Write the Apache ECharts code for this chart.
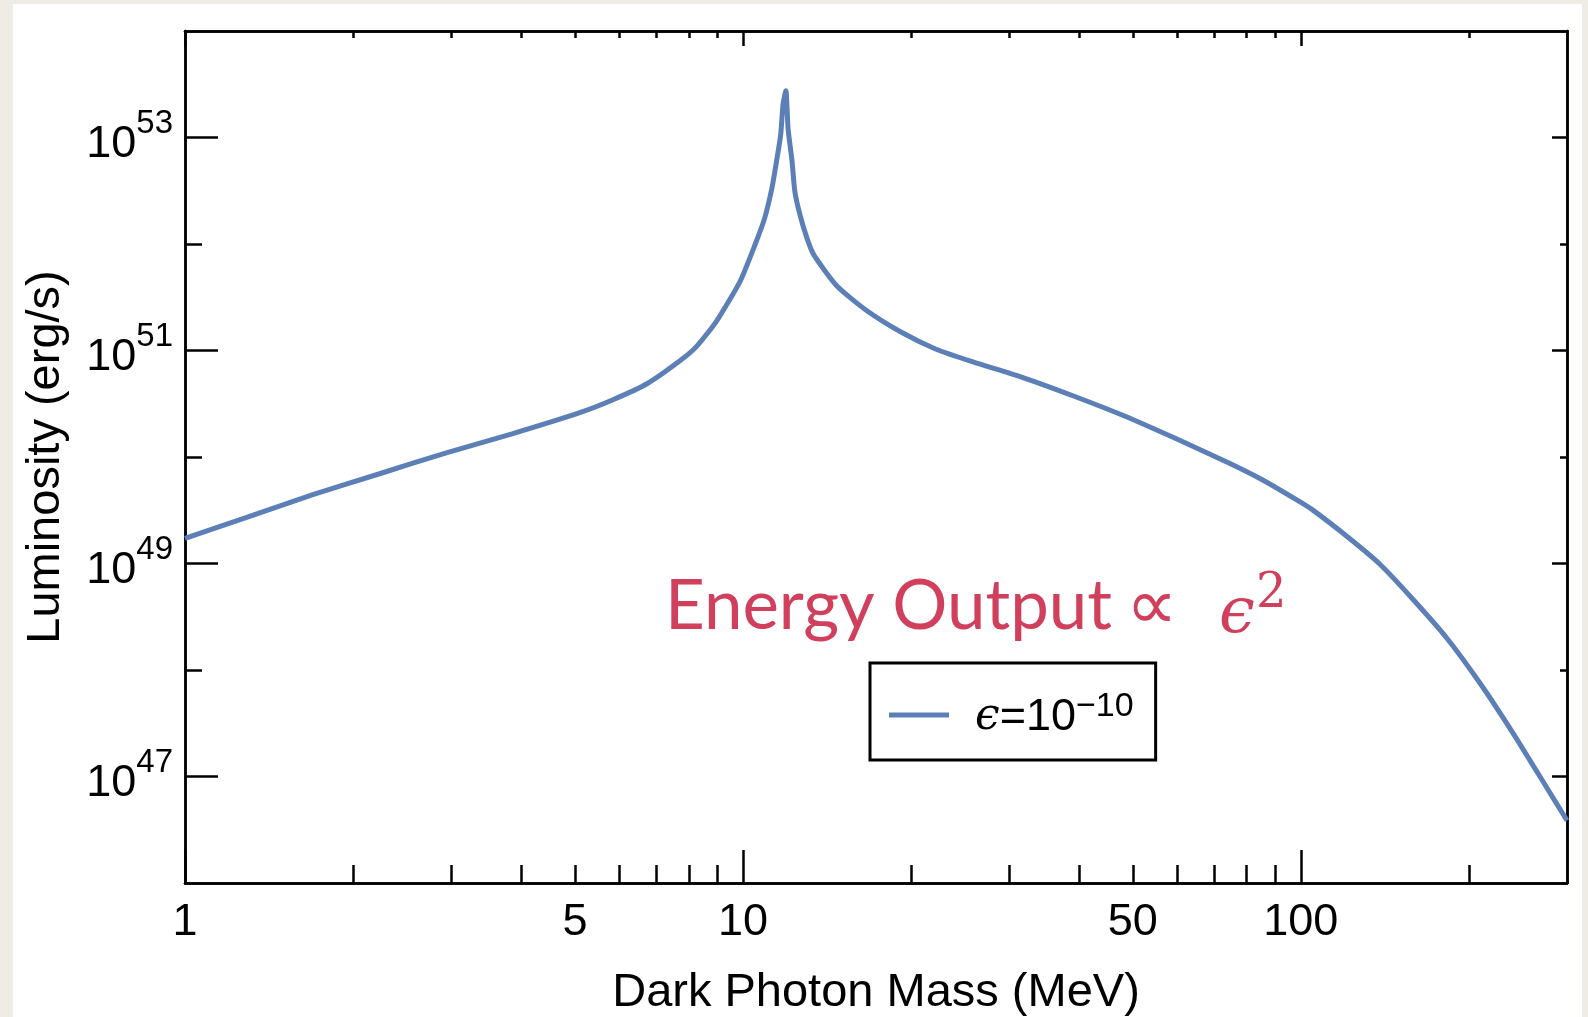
<!DOCTYPE html>
<html>
<head>
<meta charset="utf-8">
<script src="https://cdn.jsdelivr.net/npm/echarts@6/dist/echarts.min.js"></script>
<style>
  html, body { margin: 0; padding: 0; width: 1588px; height: 1017px; overflow: hidden; background: #eeece4; }
  #chart { position: absolute; left: 13px; top: 4px; width: 1569px; height: 1013px; background: #fff; }
</style>
</head>
<body>
<div id="chart"></div>
<script>
  // dark photon mass (MeV)
  const mass = [1.00, 1.29, 1.70, 2.24, 2.95, 3.87, 5.10, 5.85, 6.73, 7.71, 8.27, 8.97, 9.89,
    10.52, 10.94, 11.27, 11.51, 11.69, 11.80, 11.94, 12.05, 12.25, 12.39, 12.65, 13.03, 13.41,
    14.74, 16.61, 19.20, 22.09, 25.84, 31.50, 39.03, 48.18, 59.70, 74.00, 85.13, 98.35,
    105.1, 120.9, 138.6, 158.8, 182.6, 209.4, 239.9, 276.0, 300];
  // luminosity (erg/s) for eps = 1e-10
  const luminosity = [1.72e49, 2.71e49, 4.45e49, 7.00e49, 1.10e50, 1.66e50, 2.61e50, 3.45e50, 4.87e50, 8.00e50, 1.10e51, 1.89e51, 4.49e51,
    9.95e51, 1.75e52, 3.33e52, 6.35e52, 1.07e53, 2.04e53, 2.75e53, 1.21e53, 5.96e52, 3.12e52, 1.90e52, 1.13e52, 7.85e51,
    4.03e51, 2.40e51, 1.49e51, 1.04e51, 7.82e50, 5.66e50, 3.76e50, 2.44e50, 1.49e50, 8.87e49, 6.14e49, 3.95e49,
    3.17e49, 1.80e49, 9.84e48, 4.62e48, 2.00e48, 7.55e47, 2.57e47, 7.85e46, 3.86e46];

  const xLabelValues = [1, 5, 10, 50, 100];
  const xMajorTicks = [1, 10, 100];
  const xMinorTicks = [2, 3, 4, 5, 6, 7, 8, 9, 20, 30, 40, 50, 60, 70, 80, 90, 200];
  const yLabelValues = [1e47, 1e49, 1e51, 1e53];
  const yMinorTicks = [1e48, 1e50, 1e52];
  const seriesName = 'ϵ=10⁻¹⁰';

  const black = '#000';
  const red = '#d0405c';
  const labelFont = "'Liberation Sans', Arial, sans-serif";

  function xAxis(position, ticks, len, label) {
    return {
      type: 'log', logBase: 10, min: 1, max: 300, position: position,
      axisLine: { show: true, onZero: false, lineStyle: { color: black, width: 2.5 } },
      axisTick: { show: true, inside: true, length: len, customValues: ticks, lineStyle: { color: black, width: 2.5 } },
      axisLabel: label || { show: false },
      splitLine: { show: false }
    };
  }

  function yAxis(position, ticks, len, label) {
    return {
      type: 'log', logBase: 10, min: 1e46, max: 1e54, position: position,
      axisLine: { show: true, onZero: false, lineStyle: { color: black, width: 2.5 } },
      axisTick: { show: true, inside: true, length: len, customValues: ticks, lineStyle: { color: black, width: 2.5 } },
      axisLabel: label || { show: false },
      splitLine: { show: false }
    };
  }

  const bottomMain = xAxis('bottom', xMajorTicks, 33, {
    show: true, customValues: xLabelValues, margin: 17, color: black,
    fontFamily: labelFont, fontSize: 45,
    formatter: v => String(Math.round(v))
  });
  bottomMain.name = 'Dark Photon Mass (MeV)';
  bottomMain.nameLocation = 'middle';
  bottomMain.nameGap = 87;
  bottomMain.nameTextStyle = { color: black, fontSize: 47, fontFamily: labelFont };

  const leftMain = yAxis('left', yLabelValues, 33, {
    show: true, customValues: yLabelValues, margin: 12, color: black,
    fontFamily: labelFont,
    formatter: v => '{b|10}{s|' + Math.round(Math.log10(v)) + '}',
    rich: {
      b: { fontSize: 45, fontFamily: labelFont, color: black, lineHeight: 60, verticalAlign: 'bottom' },
      s: { fontSize: 33, fontFamily: labelFont, color: black, lineHeight: 28, verticalAlign: 'top' }
    }
  });
  leftMain.name = 'Luminosity (erg/s)';
  leftMain.nameLocation = 'middle';
  leftMain.nameGap = 115;
  leftMain.nameRotate = 90;
  leftMain.nameTextStyle = { color: black, fontSize: 47, fontFamily: labelFont };

  const option = {
    animation: false,
    grid: { left: 172, top: 27, right: 15, bottom: 134, containLabel: false, outerBoundsMode: 'none' },
    xAxis: [
      bottomMain,
      xAxis('bottom', xMinorTicks, 18),
      xAxis('top', xMajorTicks, 15),
      xAxis('top', xMinorTicks, 7)
    ],
    yAxis: [
      leftMain,
      yAxis('left', yMinorTicks, 17),
      yAxis('right', yLabelValues, 15),
      yAxis('right', yMinorTicks, 7)
    ],
    legend: {
      left: 857, top: 659,
      padding: [27, 22, 20, 19],
      borderColor: black, borderWidth: 3, backgroundColor: '#fff',
      itemWidth: 60, itemHeight: 5,
      selectedMode: false,
      data: [{ name: seriesName, icon: 'rect', itemStyle: { color: '#5b7fb6' } }],
      formatter: () => '{e|ϵ}{b|=10}{s|−10}',
      textStyle: {
        color: black,
        rich: {
          e: { fontSize: 44, fontFamily: "'DejaVu Serif', serif", fontStyle: 'italic', color: black, lineHeight: 50, verticalAlign: 'bottom', padding: [0, 0, 0, 21] },
          b: { fontSize: 45, fontFamily: labelFont, color: black, lineHeight: 50, verticalAlign: 'bottom' },
          s: { fontSize: 34, fontFamily: labelFont, color: black, lineHeight: 22, verticalAlign: 'top' }
        }
      }
    },
    graphic: [
      { type: 'text', x: 652, y: 603, style: { text: 'Energy Output', fill: red, font: "69px Lato, 'Noto Sans', sans-serif", textAlign: 'left', textVerticalAlign: 'middle' } },
      { type: 'text', x: 1113, y: 606, style: { text: '∝', fill: red, font: "72px 'DejaVu Sans', sans-serif", textAlign: 'left', textVerticalAlign: 'middle' } },
      { type: 'text', x: 1206, y: 611, style: { text: 'ϵ', fill: red, font: "italic 64px 'DejaVu Serif', serif", textAlign: 'left', textVerticalAlign: 'middle' } },
      { type: 'text', x: 1243, y: 591, style: { text: '2', fill: red, font: "48px 'DejaVu Serif', serif", textAlign: 'left', textVerticalAlign: 'middle' } }
    ],
    series: [{
      name: seriesName,
      type: 'line',
      xAxisIndex: 0, yAxisIndex: 0,
      data: mass.map((m, i) => [m, luminosity[i]]),
      symbol: 'none',
      smooth: 0.2,
      clip: true,
      lineStyle: { color: '#5b7fb6', width: 5 },
      itemStyle: { color: '#5b7fb6' }
    }]
  };

  const chart = echarts.init(document.getElementById('chart'));
  chart.setOption(option);
</script>
</body>
</html>
